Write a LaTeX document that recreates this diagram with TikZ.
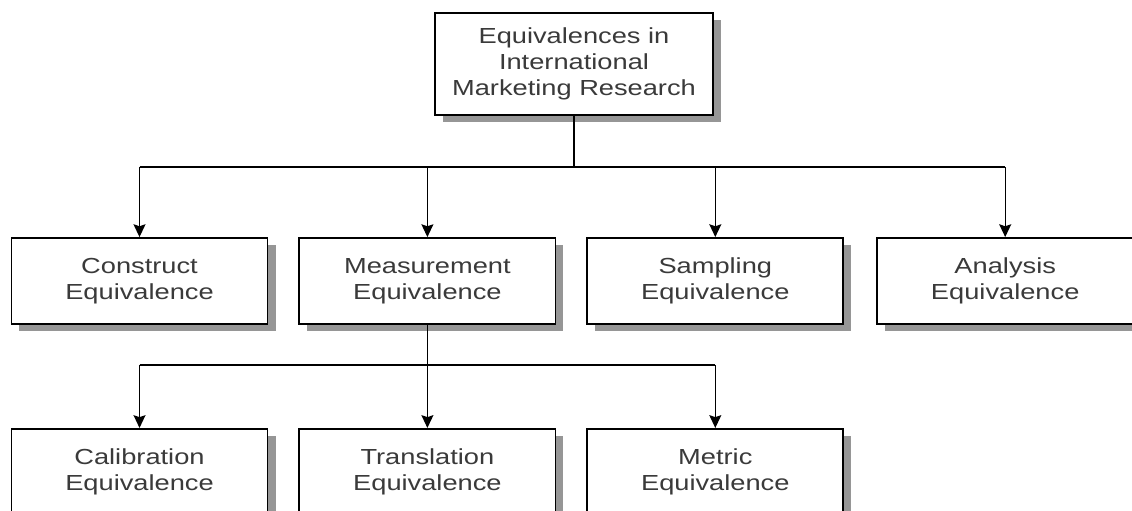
\documentclass[tikz,border=0pt]{standalone}
\usepackage{fontspec}
\setmainfont{Liberation Sans}[FakeStretch=1.25]
\usetikzlibrary{positioning,arrows.meta,shadows}
\definecolor{BoxText}{RGB}{58,58,58}
\definecolor{ShadowGray}{RGB}{150,150,150}

\begin{document}
\begin{tikzpicture}[x=0.025cm, y=-0.025cm,
  eqbox/.style={rectangle, draw=black, line width=1.3pt, fill=white,
    minimum width=6.4cm, minimum height=2.15cm, inner sep=0pt,
    font=\fontsize{15.5pt}{18.5pt}\selectfont, text=BoxText, align=center,
    drop shadow={shadow xshift=0.2cm, shadow yshift=-0.18cm, fill=ShadowGray, opacity=1}},
  rootbox/.style={eqbox, minimum width=6.95cm, minimum height=2.55cm},
  bline/.style={line width=0.9pt, black},
  earr/.style={bline, -{Stealth[length=0.32cm, width=0.3cm, inset=0.05cm]}},
]
\useasboundingbox (0,0) rectangle (1132,511);
% Root
\node[rootbox] (root) at (574,64) {Equivalences in\\International\\Marketing Research};
% Middle row
\node[eqbox] (cons) at (139.5,281) {Construct\\Equivalence};
\node[eqbox, right=0.75cm of cons] (meas) {Measurement\\Equivalence};
\node[eqbox, right=0.75cm of meas] (samp) {Sampling\\Equivalence};
\node[eqbox, right=0.8cm of samp] (anal) {Analysis\\Equivalence};
% Bottom row
\node[eqbox, below=2.575cm of cons] (cali) {Calibration\\Equivalence};
\node[eqbox, right=0.75cm of cali] (tran) {Translation\\Equivalence};
\node[eqbox, right=0.75cm of tran] (metr) {Metric\\Equivalence};
% Buses
\coordinate (bus1) at (0,167);
\coordinate (bus2) at (0,365);
\draw[bline] (root.south) -- (root.south |- bus1);
\draw[bline] (cons.north |- bus1) -- (anal.north |- bus1);
\foreach \b in {cons,meas,samp,anal}
  \draw[earr] (\b.north |- bus1) -- (\b.north);
\draw[bline] (meas.south) -- (meas.south |- bus2);
\draw[bline] (cali.north |- bus2) -- (metr.north |- bus2);
\foreach \b in {cali,tran,metr}
  \draw[earr] (\b.north |- bus2) -- (\b.north);
\end{tikzpicture}
\end{document}
